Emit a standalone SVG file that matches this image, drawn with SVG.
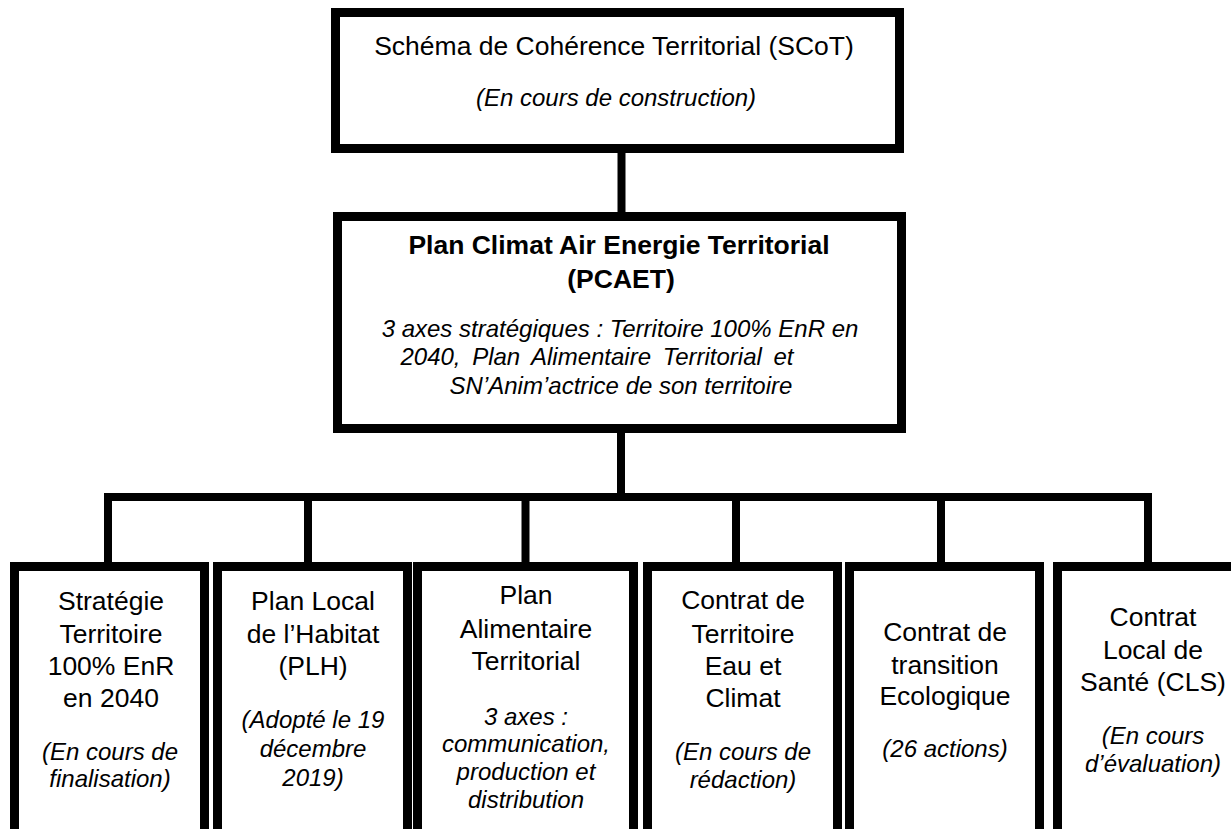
<svg xmlns="http://www.w3.org/2000/svg" width="1231" height="829" viewBox="0 0 1231 829">
<style>
.box{fill:#fff;stroke:#000;stroke-width:9}
.con{stroke:#000;stroke-width:8;fill:none}
text{font-family:"Liberation Sans",Arial,sans-serif;fill:#000;text-anchor:middle}
.r{font-size:26.5px}
.b{font-size:26.5px;font-weight:bold}
.i{font-size:24px;font-style:italic}
</style>
<rect width="1231" height="829" fill="#fff"/>
<g id="connectors">
<line class="con" x1="621.5" y1="150" x2="621.5" y2="215" stroke-width="7"/>
<line class="con" x1="621" y1="430" x2="621" y2="497"/>
<line class="con" x1="104" y1="497" x2="1152" y2="497"/>
<line class="con" x1="108" y1="497" x2="108" y2="565"/>
<line class="con" x1="308" y1="497" x2="308" y2="565"/>
<line class="con" x1="525.5" y1="497" x2="525.5" y2="565"/>
<line class="con" x1="736" y1="497" x2="736" y2="565"/>
<line class="con" x1="941" y1="497" x2="941" y2="565"/>
<line class="con" x1="1148" y1="497" x2="1148" y2="565"/>
</g>
<g id="scot">
<rect class="box" x="335.5" y="12.5" width="564" height="136"/>
<text class="r" x="614" y="55">Schéma de Cohérence Territorial (SCoT)</text>
<text class="i" x="616" y="106">(En cours de construction)</text>
</g>
<g id="pcaet">
<rect class="box" x="337.5" y="216.5" width="564" height="212"/>
<text class="b" x="619" y="254">Plan Climat Air Energie Territorial</text>
<text class="b" x="621" y="288">(PCAET)</text>
<text class="i" x="620" y="337">3 axes stratégiques : Territoire 100% EnR en</text>
<text class="i" x="597" y="365" word-spacing="5">2040, Plan Alimentaire Territorial et</text>
<text class="i" x="621" y="394">SN’Anim’actrice de son territoire</text>
</g>
<g id="strategie">
<rect class="box" x="14.5" y="566.5" width="190" height="275"/>
<text class="r" x="111" y="610">Stratégie</text>
<text class="r" x="111" y="643">Territoire</text>
<text class="r" x="111" y="675">100% EnR</text>
<text class="r" x="111" y="707">en 2040</text>
<text class="i" x="110" y="760">(En cours de</text>
<text class="i" x="110" y="787">finalisation)</text>
</g>
<g id="plh">
<rect class="box" x="217.5" y="566.5" width="190" height="275"/>
<text class="r" x="313" y="610">Plan Local</text>
<text class="r" x="313" y="643">de l’Habitat</text>
<text class="r" x="313" y="675">(PLH)</text>
<text class="i" x="313" y="728">(Adopté le 19</text>
<text class="i" x="313" y="757">décembre</text>
<text class="i" x="313" y="786">2019)</text>
</g>
<g id="pat">
<rect class="box" x="417.5" y="566.5" width="216" height="275"/>
<text class="r" x="526" y="604">Plan</text>
<text class="r" x="526" y="638">Alimentaire</text>
<text class="r" x="526" y="670">Territorial</text>
<text class="i" x="526" y="725">3 axes :</text>
<text class="i" x="526" y="752">communication,</text>
<text class="i" x="526" y="780">production et</text>
<text class="i" x="526" y="808">distribution</text>
</g>
<g id="ctec">
<rect class="box" x="647.5" y="566.5" width="190" height="275"/>
<text class="r" x="743" y="609">Contrat de</text>
<text class="r" x="743" y="643">Territoire</text>
<text class="r" x="743" y="675">Eau et</text>
<text class="r" x="743" y="707">Climat</text>
<text class="i" x="743" y="760">(En cours de</text>
<text class="i" x="743" y="788">rédaction)</text>
</g>
<g id="cte">
<rect class="box" x="849.5" y="566.5" width="190" height="275"/>
<text class="r" x="945" y="641">Contrat de</text>
<text class="r" x="945" y="674">transition</text>
<text class="r" x="945" y="705">Ecologique</text>
<text class="i" x="945" y="757">(26 actions)</text>
</g>
<g id="cls">
<rect class="box" x="1057.5" y="566.5" width="191" height="275"/>
<text class="r" x="1153" y="626">Contrat</text>
<text class="r" x="1153" y="659">Local de</text>
<text class="r" x="1153" y="691">Santé (CLS)</text>
<text class="i" x="1153" y="744">(En cours</text>
<text class="i" x="1153" y="772">d’évaluation)</text>
</g>
</svg>
